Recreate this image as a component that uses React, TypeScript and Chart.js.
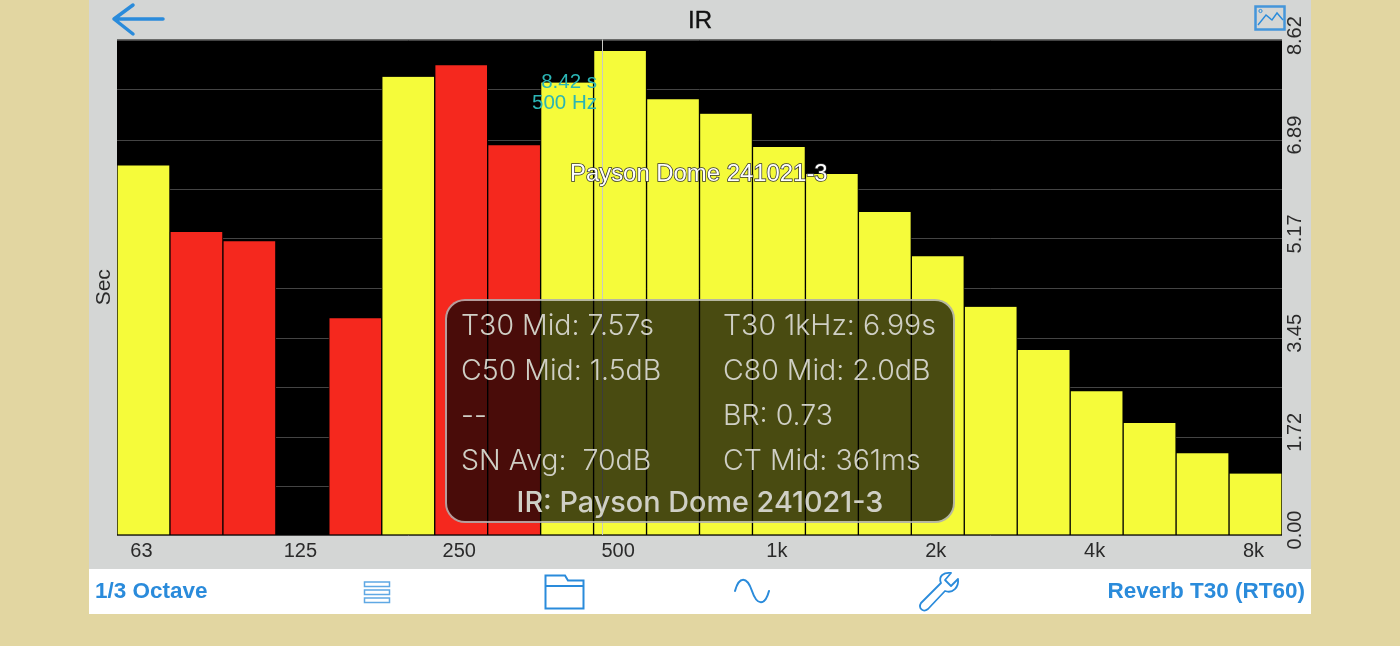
import React, { useEffect, useRef } from "react";
import { Chart, registerables } from "chart.js";

Chart.register(...registerables);

const categories = ["63","80","100","125","160","200","250","315","400","500","630","800","1k","1.25k","1.6k","2k","2.5k","3.15k","4k","5k","6.3k","8k"];
const t30Values = [6.43,5.27,5.11,0,3.77,7.97,8.17,6.78,7.87,8.42,7.58,7.33,6.75,6.28,5.62,4.85,3.97,3.22,2.50,1.95,1.42,1.07];
const flaggedBands = ["80","100","125","160","250","315"];
const octaveLabels = ["63","125","250","500","1k","2k","4k","8k"];
const yGridValues = [0,0.84,1.70,2.56,3.42,4.29,5.15,6.01,6.87,7.75,8.60];
const yTickLabels = ["0.00","","1.72","","3.45","","5.17","","6.89","","8.62"];
const cursorIndex = 8.66;
const panelLeft = ["T30 Mid: 7.57s","C50 Mid: 1.5dB","--","SN Avg:  70dB"];
const panelRight = ["T30 1kHz: 6.99s","C80 Mid: 2.0dB","BR: 0.73","CT Mid: 361ms"];
const panelRowTops = [325,370,415,460];

const SANS = "'Liberation Sans', Arial, sans-serif";
const BLUE = "#2a8bdb";

const abs = (s: React.CSSProperties): React.CSSProperties => ({ position: "absolute", whiteSpace: "pre", ...s });

const chromePlugin = {
  id: "chrome",
  beforeDraw(chart: any) {
    const { ctx, chartArea: a } = chart;
    ctx.save();
    ctx.fillStyle = "#000";
    ctx.fillRect(a.left, a.top, a.right - a.left, a.bottom - a.top);
    ctx.restore();
  },
  afterDatasetsDraw(chart: any) {
    const { ctx, chartArea: a, scales } = chart;
    const x = Math.round(scales.x.getPixelForValue(cursorIndex)) + 0.5;
    ctx.save();
    ctx.strokeStyle = "#c9c9c4";
    ctx.lineWidth = 1;
    ctx.beginPath();
    ctx.moveTo(x, a.top);
    ctx.lineTo(x, a.bottom);
    ctx.stroke();
    ctx.restore();
  },
};

export default function App() {
  const ref = useRef<HTMLCanvasElement | null>(null);
  useEffect(() => {
    if (!ref.current) return;
    const chart = new Chart(ref.current, {
      type: "bar",
      data: {
        labels: categories,
        datasets: [{
          label: "T30",
          data: t30Values,
          backgroundColor: categories.map((c) => (flaggedBands.includes(c) ? "#f5281e" : "#f5fb3a")),
          borderColor: "#000",
          borderWidth: { left: 1, right: 1, top: 0, bottom: 0 },
          borderSkipped: false,
          barPercentage: 1,
          categoryPercentage: 1,
          yAxisID: "y",
        }],
      },
      options: {
        animation: false,
        responsive: false,
        maintainAspectRatio: false,
        layout: { padding: { left: 87, right: 89, top: 39.5, bottom: 77 } },
        plugins: { legend: { display: false }, tooltip: { enabled: false }, title: { display: false } },
        scales: {
          x: {
            type: "category",
            offset: true,
            grid: { display: false },
            border: { display: false },
            afterFit(s: any) { s.height = 34; },
            ticks: {
              autoSkip: false,
              maxRotation: 0,
              minRotation: 0,
              padding: -4,
              labelOffset: -2,
              color: "#2a2a2a",
              font: { family: SANS, size: 20 },
              callback(this: any, v: any) {
                const l = this.getLabelForValue(v);
                return octaveLabels.includes(l) ? l : "";
              },
            },
          },
          y: {
            position: "right",
            min: 0,
            max: 8.62,
            afterBuildTicks(s: any) { s.ticks = yGridValues.map((value) => ({ value })); },
            afterFit(s: any) { s.width = 29; },
            grid: { color: "#444", lineWidth: 1, drawTicks: false },
            border: { display: false },
            ticks: {
              minRotation: 90,
              maxRotation: 90,
              crossAlign: "center",
              padding: -6,
              labelOffset: -5,
              autoSkip: false,
              color: "#2a2a2a",
              font: { family: SANS, size: 20 },
              callback: (_v: any, i: number) => yTickLabels[i],
            },
          },
          yTitle: {
            position: "left",
            min: 0,
            max: 8.62,
            afterFit(s: any) { s.width = 30; },
            grid: { display: false, drawTicks: false },
            border: { display: false },
            ticks: { display: false },
            title: { display: true, text: "Sec", color: "#2a2a2a", font: { family: SANS, size: 21 }, padding: { top: 5, bottom: 0 } },
          },
        },
      } as any,
      plugins: [chromePlugin],
    });
    return () => chart.destroy();
  }, []);

  const iconStroke = { fill: "none", stroke: BLUE };
  const panelText: React.CSSProperties = { lineHeight: "36px", fontFamily: "Inter", fontSize: 28.5, fontWeight: 300, color: "#cfcfc5" };
  return (
    <div style={{ position: "fixed", left: 0, top: 0, width: 1400, height: 646, background: "#e2d6a1", overflow: "hidden", fontFamily: SANS }}>
      <div style={abs({ left: 89, top: 0, width: 1222, height: 569, background: "#d4d6d5" })} />
      <div style={abs({ left: 89, top: 569, width: 1222, height: 45, background: "#fff" })} />
      <canvas ref={ref} width={1400} height={646} style={abs({ left: 0, top: 0, width: 1400, height: 646 })} />

      <div style={abs({ left: 600, width: 200, top: 6, lineHeight: "28px", textAlign: "center", fontSize: 24, color: "#111", WebkitTextStroke: "0.4px #111" })}>IR</div>

      <svg width="1400" height="646" style={abs({ left: 0, top: 0, pointerEvents: "none" })}>
        {/* back arrow */}
        <path d="M114 19 H163 M133 5 L114 19 L133 34" {...iconStroke} strokeWidth={3.5} strokeLinecap="round" strokeLinejoin="round" />
        {/* picture icon */}
        <rect x="1255.5" y="6.5" width="29" height="23" {...iconStroke} strokeWidth={2.5} opacity={0.85} />
        <path d="M1258 25 L1266 15 L1272 20 L1277 13 L1283 20" {...iconStroke} strokeWidth={1.4} />
        <circle cx="1260.5" cy="11" r="1.6" {...iconStroke} strokeWidth={1} />
        {/* list icon */}
        <g {...iconStroke} strokeWidth={1.5} opacity={0.75}>
          <rect x="364.5" y="582" width="25" height="4.5" />
          <rect x="364.5" y="590" width="25" height="4.5" />
          <rect x="364.5" y="598" width="25" height="4.5" />
        </g>
        {/* folder icon */}
        <path d="M545.5 608.5 V575.5 H565 L568 580.5 H583.5 V608.5 Z M545.5 586 H583.5" {...iconStroke} strokeWidth={2} />
        {/* wave icon */}
        <path d="M735 591 C739 576 747 576 752 591 S765 606 769 591" {...iconStroke} strokeWidth={2} strokeLinecap="round" />
        {/* wrench icon */}
        <path d="M921 603 L941 583 C938 576 944 572 951 573 L945 580 L951 586 L958 579 C959 587 953 594 945 591 L928 609 C923 613 918 608 921 603 Z" {...iconStroke} strokeWidth={1.8} strokeLinejoin="round" />
      </svg>

      <div style={abs({ left: 95, top: 577, lineHeight: "28px", fontSize: 22.5, fontWeight: 700, color: BLUE })}>1/3 Octave</div>
      <div style={abs({ right: 95, top: 577, lineHeight: "28px", fontSize: 22.5, fontWeight: 700, color: BLUE })}>Reverb T30 (RT60)</div>

      <div style={abs({ right: 803, top: 70, lineHeight: "21px", fontSize: 20.5, color: "#2bb5b5", textAlign: "right" })}>{"8.42 s\n500 Hz"}</div>
      <div style={abs({ left: 570, top: 159, lineHeight: "28px", fontSize: 23.9, color: "#fff", WebkitTextStroke: "1.5px #333", paintOrder: "stroke fill" })}>Payson Dome 241021-3</div>

      <div style={abs({ left: 445, top: 299, width: 510, height: 224, boxSizing: "border-box", background: "rgba(0,0,0,0.7)", border: "2px solid rgba(255,255,255,0.6)", borderRadius: 20 })} />
      {panelLeft.map((t, i) => (
        <div key={t} style={abs({ ...panelText, left: 461, top: panelRowTops[i] - 18 })}>{t}</div>
      ))}
      {panelRight.map((t, i) => (
        <div key={t} style={abs({ ...panelText, left: 723, top: panelRowTops[i] - 18 })}>{t}</div>
      ))}
      <div style={abs({ ...panelText, left: 445, width: 510, top: 484, textAlign: "center", fontWeight: 500, fontSize: 28.8 })}>IR: Payson Dome 241021-3</div>
    </div>
  );
}
